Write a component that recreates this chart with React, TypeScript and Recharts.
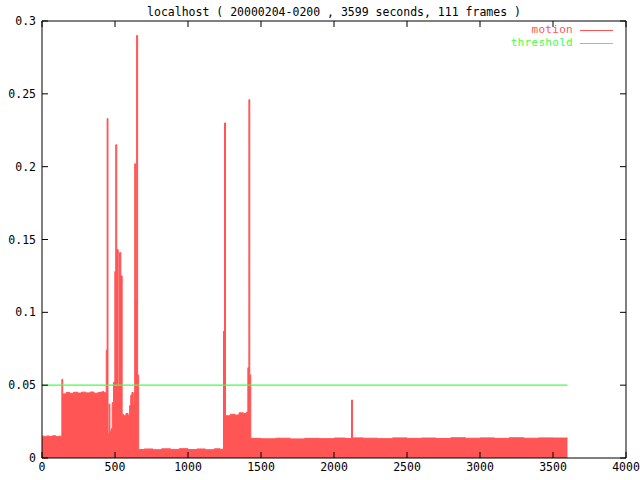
import { ComposedChart, Area, Line, XAxis, YAxis, ReferenceLine } from 'recharts';

// seconds since start and motion level (step-after impulses)
const seconds = [
  0, 18, 30, 52, 70, 95, 115, 136, 142, 165, 190, 215, 245, 270, 300, 330, 355, 385, 410, 425,
  440, 446, 452, 459, 465, 473, 481, 490, 499, 505, 512, 522, 531, 540, 549, 560, 575, 590, 600,
  608, 616, 624, 630, 635, 641, 648, 655, 662,
  700, 760, 820, 880, 940, 1000, 1060, 1120, 1180, 1220,
  1243, 1250, 1257, 1290, 1320, 1350, 1380, 1400, 1410, 1417, 1423, 1430,
  1500, 1600, 1700, 1800, 1900, 2000, 2080, 2120, 2127, 2200, 2300, 2400, 2500, 2600, 2700,
  2800, 2900, 3000, 3100, 3200, 3300, 3400, 3500, 3599,
];
const motion = [
  0.015, 0.0146, 0.0151, 0.0148, 0.0152, 0.0147, 0.015, 0.054, 0.044, 0.045, 0.0444, 0.0451,
  0.0446, 0.0452, 0.0447, 0.0453, 0.0445, 0.045, 0.0455, 0.0448,
  0.074, 0.233, 0.017, 0.037, 0.018, 0.02, 0.038, 0.052, 0.128, 0.215, 0.143, 0.05, 0.141, 0.125,
  0.03, 0.029, 0.0305, 0.0292, 0.036, 0.043, 0.045, 0.036, 0.045, 0.202, 0.108, 0.29, 0.057, 0.0058,
  0.0062, 0.0057, 0.0063, 0.0059, 0.0064, 0.0058, 0.0062, 0.0057, 0.0063, 0.006,
  0.087, 0.23, 0.029, 0.03, 0.0295, 0.031, 0.0305, 0.0315, 0.062, 0.246, 0.057, 0.0135,
  0.0132, 0.0136, 0.0131, 0.0135, 0.0133, 0.0137, 0.0134, 0.0398, 0.0138, 0.0136, 0.0133, 0.0138,
  0.0135, 0.0137, 0.0134, 0.0139, 0.0136, 0.0138, 0.0135, 0.0139, 0.0136, 0.0138, 0.0137, 0.0135,
];
const THRESHOLD = 0.05;

const xTicks = [0, 500, 1000, 1500, 2000, 2500, 3000, 3500, 4000];
const yTicks = [0, 0.05, 0.1, 0.15, 0.2, 0.25, 0.3];

const W = 640;
const H = 480;
const M = { top: 21, right: 14, left: 0, bottom: 0 };
const PLOT_RIGHT = W - M.right;
const PLOT_TOP = M.top;
const FONT = '"DejaVu Sans Mono", monospace';
const RED = '#ff5555';
const GREEN = '#44ff44';

const rows = seconds.map((t, i) => ({ t, motion: motion[i], threshold: THRESHOLD }));

const YTick = (props: any) => {
  const { x, y, payload } = props;
  return (
    <g>
      <line x1={x} x2={x + 6} y1={y} y2={y} stroke="#000" />
      <line x1={PLOT_RIGHT - 6} x2={PLOT_RIGHT} y1={y} y2={y} stroke="#000" />
      <text x={x - 6} y={y} textAnchor="end" dominantBaseline="central" fontFamily={FONT} fontSize={11.5} fill="#000">
        {String(payload.value)}
      </text>
    </g>
  );
};

const XTick = (props: any) => {
  const { x, y, payload } = props;
  return (
    <g>
      <line x1={x} x2={x} y1={y} y2={y - 6} stroke="#000" />
      <line x1={x} x2={x} y1={PLOT_TOP} y2={PLOT_TOP + 6} stroke="#000" />
      <text x={x} y={y + 9} textAnchor="middle" dominantBaseline="central" fontFamily={FONT} fontSize={11.5} fill="#000">
        {String(payload.value)}
      </text>
    </g>
  );
};

export default function App() {
  return (
    <div style={{ position: 'absolute', left: 0, top: 0, width: W, height: H, background: '#fff' }}>
      <ComposedChart width={W} height={H} data={rows} margin={M}>
        <XAxis
          dataKey="t"
          type="number"
          domain={[0, 4000]}
          ticks={xTicks}
          height={22}
          tickSize={0}
          tickMargin={0}
          tickLine={false}
          axisLine={{ stroke: '#000' }}
          tick={<XTick />}
          interval={0}
        />
        <YAxis
          type="number"
          domain={[0, 0.3]}
          ticks={yTicks}
          width={42}
          tickSize={0}
          tickMargin={0}
          tickLine={false}
          axisLine={{ stroke: '#000' }}
          tick={<YTick />}
          interval={0}
        />
        <ReferenceLine y={0.3} stroke="#000" />
        <ReferenceLine x={4000} stroke="#000" />
        <Area
          dataKey="motion"
          type="stepAfter"
          stroke={RED}
          strokeWidth={1}
          fill={RED}
          fillOpacity={1}
          isAnimationActive={false}
        />
        <Line
          dataKey="threshold"
          type="linear"
          stroke={GREEN}
          strokeWidth={1.4}
          dot={false}
          isAnimationActive={false}
        />
      </ComposedChart>
      <div
        style={{
          position: 'absolute', left: 42, top: 5, width: 584, textAlign: 'center',
          fontFamily: FONT, fontSize: 11.5, lineHeight: '14px', color: '#000', whiteSpace: 'pre',
        }}
      >
        localhost ( 20000204-0200 , 3599 seconds, 111 frames )
      </div>
      {[
        { name: 'motion', color: RED, y: 30 },
        { name: 'threshold', color: GREEN, y: 43 },
      ].map((item) => (
        <div key={item.name}>
          <div
            style={{
              position: 'absolute', right: W - 573, top: item.y - 6, height: 12, lineHeight: '12px',
              fontFamily: FONT, fontSize: 11, letterSpacing: '0.3px', color: item.color, whiteSpace: 'pre',
            }}
          >
            {item.name}
          </div>
          <div style={{ position: 'absolute', left: 580, top: item.y - 0.5, width: 33, height: 1.5, background: item.color }} />
        </div>
      ))}
    </div>
  );
}
